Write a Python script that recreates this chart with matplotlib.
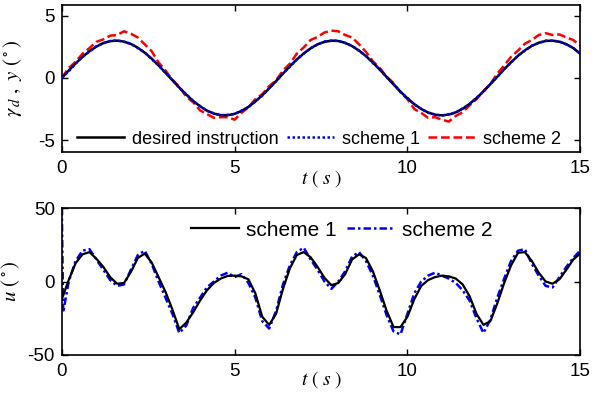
import matplotlib
matplotlib.use("Agg")
import matplotlib.pyplot as plt

# ---------------- data ----------------
t = [round(0.2 * i, 1) for i in range(76)]  # 0.0 .. 15.0 step 0.2

desired = [0.0, 0.60, 1.17, 1.69, 2.15, 2.52, 2.80, 2.96, 3.00, 2.92,
           2.73, 2.43, 2.03, 1.55, 1.01, 0.42, -0.18, -0.77, -1.33, -1.84,
           -2.27, -2.62, -2.86, -2.98, -2.99, -2.88, -2.65, -2.32, -1.89, -1.39,
           -0.84, -0.25, 0.35, 0.94, 1.48, 1.97, 2.38, 2.70, 2.90, 3.00,
           2.97, 2.82, 2.56, 2.20, 1.76, 1.24, 0.67, 0.08, -0.52, -1.10,
           -1.63, -2.10, -2.49, -2.77, -2.95, -3.00, -2.94, -2.76, -2.47, -2.08,
           -1.61, -1.08, -0.50, 0.10, 0.70, 1.26, 1.78, 2.22, 2.58, 2.83,
           2.97, 3.00, 2.91, 2.71, 2.40, 1.95]

scheme1_y = [0.0, 0.55, 1.15, 1.72, 2.12, 2.55, 2.78, 2.97, 3.02, 2.90,
             2.75, 2.40, 2.05, 1.52, 1.02, 0.40, -0.15, -0.80, -1.30, -1.86,
             -2.25, -2.64, -2.84, -3.00, -2.96, -2.90, -2.62, -2.34, -1.87, -1.42,
             -0.80, -0.27, 0.37, 0.90, 1.50, 1.95, 2.40, 2.68, 2.93, 2.98,
             2.99, 2.80, 2.58, 2.18, 1.78, 1.20, 0.70, 0.05, -0.50, -1.12,
             -1.60, -2.13, -2.47, -2.80, -2.93, -3.03, -2.90, -2.78, -2.44, -2.10,
             -1.58, -1.10, -0.47, 0.08, 0.72, 1.24, 1.80, 2.20, 2.60, 2.80,
             3.00, 2.98, 2.93, 2.69, 2.42, 1.93]

scheme2_y = [0.0, 0.80, 1.30, 1.95, 2.40, 2.90, 3.10, 3.40, 3.45, 3.75,
             3.55, 3.25, 2.70, 2.15, 1.25, 0.60, -0.15, -0.70, -1.50, -1.95,
             -2.60, -2.90, -3.20, -3.15, -3.15, -3.35, -2.80, -2.35, -1.70, -1.30,
             -0.65, -0.20, 0.60, 1.15, 1.95, 2.45, 3.05, 3.30, 3.65, 3.80,
             3.75, 3.45, 3.25, 2.70, 2.10, 1.35, 0.80, 0.10, -0.40, -1.15,
             -1.70, -2.50, -2.80, -3.20, -3.15, -3.35, -3.50, -3.05, -2.75, -2.20,
             -1.70, -1.05, -0.50, 0.35, 1.00, 1.70, 2.20, 2.75, 3.05, 3.45,
             3.60, 3.45, 3.50, 3.25, 3.05, 2.60]

scheme1_u = [-12, 1, 12.5, 18.5, 20, 15.5, 10, 3, -1.5, -1,
             6.5, 16, 19, 13, 3, -7, -19, -32.5, -28, -21,
             -13, -6, -1, 2, 3.8, 4, 3.5, 1.5, -8, -24,
             -29.5, -22, -5, 9, 18, 20, 16.5, 10, 2.5, -2.5,
             -1, 5, 15, 18.5, 16, 7, -6, -20, -31, -31,
             -24, -12, -3, 1, 3, 4, 3.5, 2, -2, -10,
             -22, -29.5, -27, -15, -1, 11, 19.5, 20, 14, 6,
             0, -1.5, 1.5, 8, 15, 19]

t_u2 = [0.0, 0.04] + t[1:]
scheme2_u = [50, -21,
             0, 14, 21, 22, 15, 8, 1, -3, -2,
             8, 18, 21, 12, 0, -11, -22, -35, -30, -18,
             -11, -4, 0, 4, 6, 3, 5, -1, -11, -27,
             -32, -20, -2, 11, 20, 23, 15, 8, 0, -5,
             0, 7, 17, 20, 14, 4, -9, -23, -34, -36,
             -22, -8, 0, 4, 6, 4, 2, -1, -6, -13,
             -25, -35, -26, -11, 2, 14, 21, 22, 12, 4,
             -3, -4, 3, 10, 16, 21]

xticks = [0, 5, 10, 15]
yticks_top = [-5, 0, 5]
yticks_bot = [-50, 0, 50]

# ---------------- style ----------------
plt.rcParams['font.family'] = ['Liberation Sans', 'DejaVu Sans']
plt.rcParams['mathtext.fontset'] = 'stix'
plt.rcParams['axes.unicode_minus'] = False

fig = plt.figure(figsize=(6.0, 3.94), dpi=100)
ax1 = fig.add_axes([0.103, 0.614, 0.864, 0.373])
ax2 = fig.add_axes([0.103, 0.099, 0.864, 0.373])

for ax in (ax1, ax2):
    for s in ax.spines.values():
        s.set_linewidth(1.2)
    ax.tick_params(direction='in', top=True, right=True, length=4, width=1.0,
                   labelsize=13.5, pad=5)
    ax.tick_params(axis='x', pad=6)
    ax.set_xlim(0, 15)
    ax.set_xticks(xticks)

# top panel
ax1.plot(t, desired, color='black', lw=1.8, label='desired instruction', zorder=3)
ax1.plot(t, scheme1_y, color='#0000ff', lw=1.8, linestyle=(0, (1, 1)), label='scheme 1', zorder=4)
ax1.plot(t, scheme2_y, color='#ff0000', lw=1.8, linestyle=(0, (3.5, 1.5)), label='scheme 2', zorder=2)
ax1.set_ylim(-5.95, 5.85)
ax1.set_yticks(yticks_top)
ax1.legend(loc='center', bbox_to_anchor=(0.496, 0.088), ncol=3, frameon=False,
           fontsize=13, handlelength=2.6, handletextpad=0.45, columnspacing=0.45,
           borderpad=0, borderaxespad=0)
ax1.set_ylabel(r'$\gamma_{\,d}\ ,\ y\ (\,^{\circ}\,)$', fontsize=15)
ax1.yaxis.set_label_coords(-0.072, 0.5)
ax1.text(0.502, -0.18, r'$t\ (\ s\ )$', transform=ax1.transAxes, ha='center',
         va='center', fontsize=14)

# bottom panel
ax2.plot(t, scheme1_u, color='black', lw=1.6, label='scheme 1', zorder=3)
ax2.plot(t_u2, scheme2_u, color='#0000ff', lw=1.8, linestyle=(0, (3, 1.2, 1, 1.2)),
         label='scheme 2', zorder=2)
ax2.set_ylim(-50, 50)
ax2.set_yticks(yticks_bot)
ax2.legend(loc='center', bbox_to_anchor=(0.54, 0.85), ncol=2, frameon=False,
           fontsize=15, handlelength=2.3, handletextpad=0.35, columnspacing=0.5,
           borderpad=0, borderaxespad=0)
ax2.set_ylabel(r'$u\ (\,^{\circ}\,)$', fontsize=15)
ax2.yaxis.set_label_coords(-0.076, 0.5)
ax2.text(0.502, -0.17, r'$t\ (\ s\ )$', transform=ax2.transAxes, ha='center',
         va='center', fontsize=14)

fig.savefig('out.png', dpi=100)
